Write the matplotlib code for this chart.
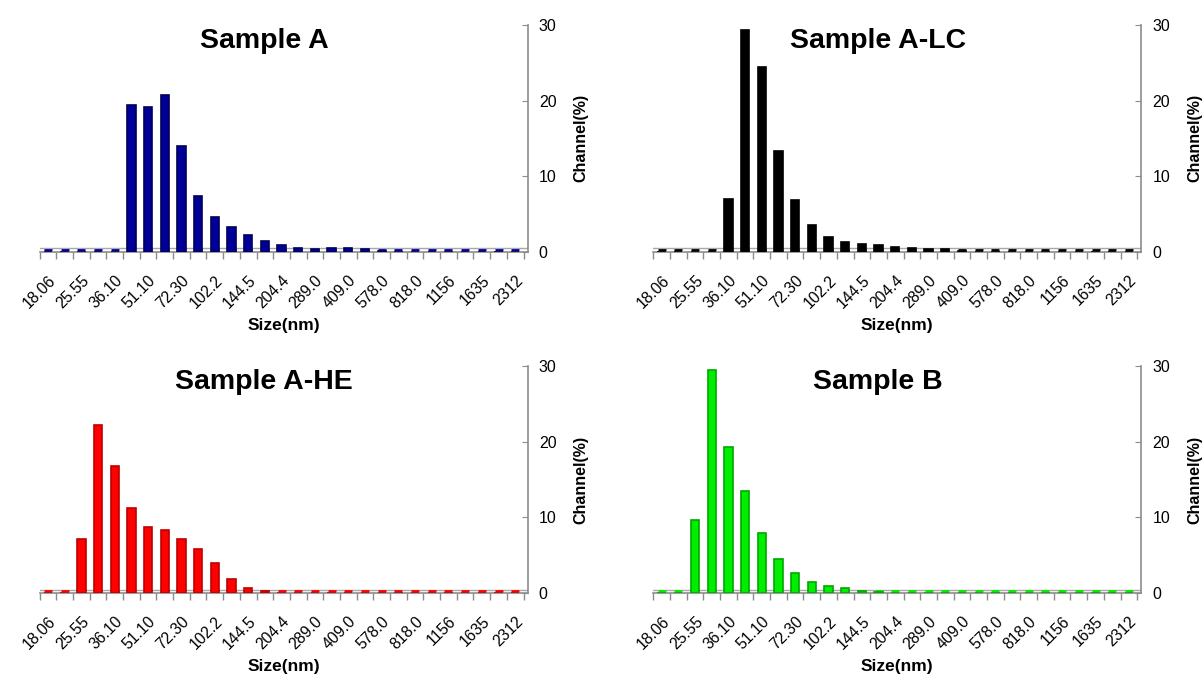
import numpy as np
import matplotlib
matplotlib.use("Agg")
import matplotlib.pyplot as plt

plt.rcParams['font.family'] = ['Liberation Sans', 'DejaVu Sans']

# size bins (nm), 29 channels; every other one is labelled
sizes = ["18.06", "21.47", "25.55", "30.38", "36.10", "42.93", "51.10", "60.77",
         "72.30", "85.98", "102.2", "121.6", "144.5", "171.9", "204.4", "243.1",
         "289.0", "343.7", "409.0", "486.3", "578.0", "687.4", "818.0", "972.7",
         "1156", "1375", "1635", "1944", "2312"]

sample_a = [0, 0, 0, 0, 0, 19.4, 19.2, 20.8, 14.0, 7.4, 4.6, 3.3, 2.2, 1.4, 0.8,
            0.5, 0.4, 0.5, 0.5, 0.3, 0.1, 0, 0, 0, 0, 0, 0, 0, 0]
sample_a_lc = [0, 0, 0, 0, 7.0, 29.3, 24.4, 13.3, 6.8, 3.5, 1.9, 1.3, 1.0, 0.8, 0.6,
               0.5, 0.4, 0.3, 0.1, 0, 0, 0, 0, 0, 0, 0, 0, 0, 0]
sample_a_he = [0, 0, 7.1, 22.2, 16.8, 11.2, 8.7, 8.4, 7.2, 5.8, 3.9, 1.9, 0.6, 0.2,
               0, 0, 0, 0, 0, 0, 0, 0, 0, 0, 0, 0, 0, 0, 0]
sample_b = [0, 0, 9.6, 29.5, 19.3, 13.5, 7.9, 4.5, 2.6, 1.5, 0.9, 0.6, 0.3, 0.1,
            0, 0, 0, 0, 0, 0, 0, 0, 0, 0, 0, 0, 0, 0, 0]

panels = [
    ("Sample A", sample_a, "#000099", "#00005a", [0.0329, 0.629, 0.4054, 0.334]),
    ("Sample A-LC", sample_a_lc, "#000000", "#000000", [0.5426, 0.629, 0.4054, 0.334]),
    ("Sample A-HE", sample_a_he, "#ff0000", "#c00000", [0.0329, 0.1255, 0.4054, 0.334]),
    ("Sample B", sample_b, "#00ee00", "#00a800", [0.5426, 0.1255, 0.4054, 0.334]),
]

fig = plt.figure(figsize=(12.04, 6.78), dpi=100)
x = np.arange(len(sizes))
grey = "#8c8c8c"

for title, vals, col, edge, pos in panels:
    ax = fig.add_axes(pos)
    ax.bar(x, vals, width=0.5, color=col, edgecolor=edge, linewidth=1.2, zorder=3)
    ax.set_xlim(-0.5, 28.75)
    ax.set_ylim(0, 30)

    # floor of the pseudo-3D plot, with the flat tops of empty channels on it
    ax.axhline(0.45, color="#a8a8a8", lw=1.0, zorder=1)
    ax.plot(x, np.zeros(len(x)) + 0.22, ls="none", marker="_", ms=6, mew=2,
            color=col, zorder=2)

    ax.spines[['left', 'top']].set_visible(False)
    ax.spines['bottom'].set_color(grey)
    ax.spines['right'].set_color(grey)
    ax.spines['bottom'].set_linewidth(1.2)
    ax.spines['right'].set_linewidth(1.2)

    ax.yaxis.tick_right()
    ax.yaxis.set_label_position("right")
    ax.set_yticks([0, 10, 20, 30])
    ax.tick_params(axis='y', direction='in', length=4, color=grey, labelsize=11.5, pad=8)
    ax.set_ylabel("Channel(%)", fontsize=11.5, fontweight="bold", labelpad=12)

    ax.set_xticks(x[::2])
    ax.set_xticklabels(sizes[::2], rotation=45, ha="right", rotation_mode="anchor",
                       fontsize=11.3)
    ax.tick_params(axis='x', which='major', length=0, pad=15)
    ax.set_xticks(np.arange(-0.5, 29, 1), minor=True)
    ax.tick_params(axis='x', which='minor', length=5, color=grey, width=1)
    ax.set_xlabel("Size(nm)", fontsize=12.5, fontweight="bold", labelpad=5)

    ax.text(0.46, 0.93, title, transform=ax.transAxes, ha="center", va="center",
            fontsize=20.5, fontweight="bold")

fig.savefig("out.png", dpi=100)
